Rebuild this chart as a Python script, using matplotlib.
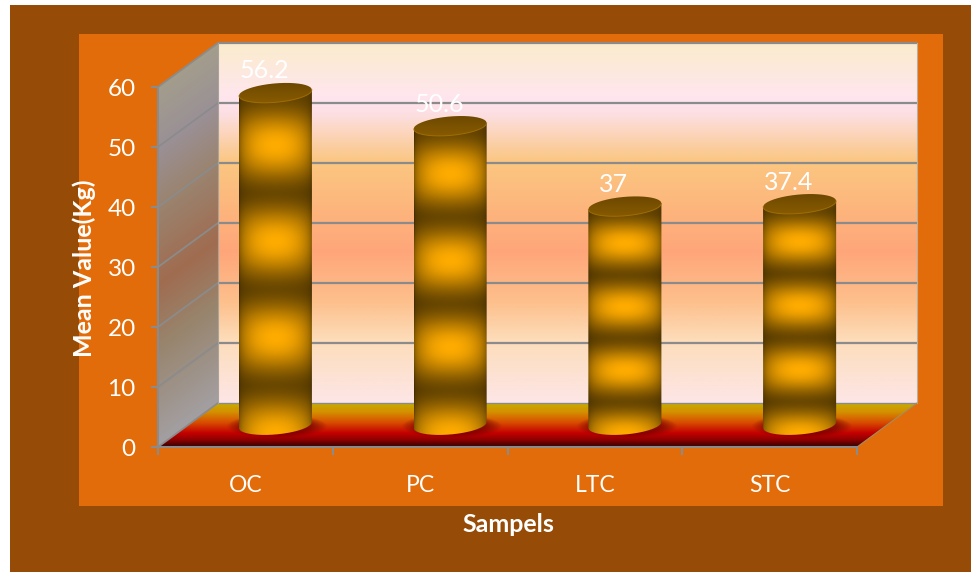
import matplotlib
matplotlib.use("Agg")
import matplotlib.pyplot as plt
import numpy as np
from matplotlib.colors import LinearSegmentedColormap, to_rgb
from matplotlib.patches import Rectangle
from matplotlib.path import Path

plt.rcParams['font.family'] = ['Lato', 'DejaVu Sans']

samples = ["OC", "PC", "LTC", "STC"]
mean_values = [56.2, 50.6, 37, 37.4]
value_ticks = [0, 10, 20, 30, 40, 50, 60]

W, H = 971, 572
GRID = "#8b8b8b"

# depth of the fake 3D box, in axis units
depth_x = 60 / 174.75
depth_y = 44 / 6.0
bar_half = 36.5 / 174.75
bar_squash = 1.58
bar_tilt = 0.5
bar_scale = 0.985


def px_box(x0, y0, x1, y1):
    return (x0 / W, 1 - y1 / H, (x1 - x0) / W, (y1 - y0) / H)


def gradient(stops):
    return LinearSegmentedColormap.from_list("g", stops)


def clipped_image(ax, rgb, extent, verts, zorder):
    im = ax.imshow(rgb, extent=extent, origin="lower", aspect="auto", zorder=zorder,
                   interpolation="bilinear")
    im.set_clip_box(ax.figure.bbox)
    im.set_clip_path(Path(verts), ax.transData)
    return im


fig = plt.figure(figsize=(W / 100, H / 100), dpi=100, facecolor="white")
x, y, w, h = px_box(10, 5, 971, 572)
fig.add_artist(Rectangle((x, y), w, h, transform=fig.transFigure, color="#964B06", lw=0, zorder=-2))
x, y, w, h = px_box(79, 34, 943, 506)
fig.add_artist(Rectangle((x, y), w, h, transform=fig.transFigure, color="#E36C0A", lw=0, zorder=-1))

ax = fig.add_axes(px_box(158, 87, 857, 447))
ax.patch.set_alpha(0)

x_lo, x_hi = -0.5, len(samples) - 0.5
y_lo, y_hi = 0, 60

# back wall
wall = gradient([(0.0, "#FBECCD"), (0.145, "#FFE6EE"), (0.19, "#FDE0E6"), (0.33, "#FBC680"),
                 (0.58, "#FFA67A"), (0.72, "#FDC08C"), (0.83, "#FDDDBB"), (1.0, "#FDE6E6")])
rows = np.linspace(1, 0, 400)[:, None]
back = ax.imshow(wall(rows)[:, :, :3], extent=(x_lo + depth_x, x_hi + depth_x, y_lo + depth_y, y_hi + depth_y),
                 origin="lower", aspect="auto", zorder=1, clip_on=False)

# side wall, shaded along the skew of the box
side = gradient([(0.0, "#A39D8C"), (0.17, "#9A9096"), (0.33, "#9A8470"), (0.55, "#A06C50"),
                 (0.72, "#98846C"), (1.0, "#A39FA2")])
gx, gy = np.meshgrid(np.linspace(x_lo, x_lo + depth_x, 80), np.linspace(y_lo, y_hi + depth_y, 420))
frac = gy - (gx - x_lo) / depth_x * depth_y
side_rgb = side(np.clip(1 - frac / 60, 0, 1))[:, :, :3]
side_verts = [(x_lo, y_lo), (x_lo + depth_x, y_lo + depth_y), (x_lo + depth_x, y_hi + depth_y), (x_lo, y_hi)]
clipped_image(ax, side_rgb, (x_lo, x_lo + depth_x, y_lo, y_hi + depth_y), side_verts, 1)

# floor
floor = gradient([(0.0, "#C8AC00"), (0.2, "#D49000"), (0.45, "#D84A00"), (0.68, "#C40000"),
                  (0.85, "#8A0000"), (1.0, "#300000")])
floor_rgb = floor(np.linspace(1, 0, 200)[:, None])[:, :, :3]
floor_verts = [(x_lo, y_lo), (x_hi, y_lo), (x_hi + depth_x, y_lo + depth_y), (x_lo + depth_x, y_lo + depth_y)]
clipped_image(ax, floor_rgb, (x_lo, x_hi + depth_x, y_lo, y_lo + depth_y), floor_verts, 1)

# gridlines on both walls
for v in value_ticks:
    lw = 1.6 if v > 0 else 1.0
    ax.plot([x_lo + depth_x, x_hi + depth_x], [v + depth_y, v + depth_y], color=GRID, lw=lw, zorder=2,
            clip_on=False, solid_capstyle="butt")
    ax.plot([x_lo, x_lo + depth_x], [v, v + depth_y], color=GRID, lw=1.3, zorder=2, clip_on=False)
ax.plot([x_lo + depth_x, x_lo + depth_x], [y_lo + depth_y, y_hi + depth_y], color="#A8A49C", lw=0.8, zorder=2,
        clip_on=False)
ax.plot([x_hi + depth_x, x_hi + depth_x], [y_lo + depth_y, y_hi + depth_y], color="#B8B0A0", lw=0.8, zorder=2,
        clip_on=False)
ax.plot([x_hi, x_hi + depth_x], [y_lo, y_lo + depth_y], color="#A09060", lw=0.8, zorder=2, clip_on=False)

bright = np.array(to_rgb("#FFAC00"))
cap_dark = np.array(to_rgb("#6A4600"))
cap_light = np.array(to_rgb("#8E5F00"))
bands = 3.45

for i, val in enumerate(mean_values):
    cx = i + depth_x / 2
    base = depth_y / 2
    top = base + val * bar_scale

    # soft shadow on the floor
    sx, sy = np.meshgrid(np.linspace(-1, 1, 80), np.linspace(-1, 1, 50))
    shade = np.zeros((50, 80, 4))
    shade[:, :, :3] = to_rgb("#6E0000")
    shade[:, :, 3] = 0.7 * np.clip((1 - sx ** 2 - sy ** 2) * 1.8, 0, 1)
    ax.imshow(shade, extent=(cx - 0.28, cx + 0.30, base - 2.1, base + 1.9), origin="lower", aspect="auto",
              zorder=3)

    # cylinder body
    t = np.linspace(-1, 1, 120)
    arc = np.sqrt(1 - t ** 2)
    lower = base + bar_tilt * t - bar_squash * arc
    upper = top + bar_tilt * t
    body = list(zip(cx + bar_half * t, lower)) + list(zip((cx + bar_half * t)[::-1], upper[::-1]))

    u, vv = np.meshgrid(np.linspace(-1, 1, 150), np.linspace(base - bar_squash - 0.5, top + 1, 500))
    phase = (vv - (base - bar_squash)) / (top - base) * bands
    along = (0.5 + 0.5 * np.cos(2 * np.pi * phase)) ** 0.9
    across = np.sqrt(np.clip(1 - u ** 2, 0, 1))
    shine = (0.42 + 0.58 * along) * (0.5 + 0.5 * across ** (0.45 + 0.8 * along))
    rgb = np.clip(shine[:, :, None] * bright, 0, 1)
    clipped_image(ax, rgb, (cx - bar_half, cx + bar_half, vv.min(), vv.max()), body, 4)

    # cylinder cap
    cap = list(zip(cx + bar_half * t, top + bar_tilt * t - bar_squash * arc)) + \
        list(zip((cx + bar_half * t)[::-1], (top + bar_tilt * t + bar_squash * arc)[::-1]))
    mix = np.linspace(0.9, 0.0, 40)[:, None, None]
    cap_rgb = np.repeat(mix * cap_light + (1 - mix) * cap_dark, 4, axis=1)
    clipped_image(ax, cap_rgb, (cx - bar_half, cx + bar_half, top - bar_squash - bar_tilt, top + bar_squash + bar_tilt),
                  cap, 5)
    ax.plot(cx + bar_half * t, top + bar_tilt * t - bar_squash * arc, color="#A87408", lw=0.7, alpha=0.8, zorder=6)

    ax.annotate(f"{val:g}", (cx, top), xytext=(-7.9, 15.8), textcoords="offset points", ha="center", va="center",
                color="white", fontsize=18, zorder=7, annotation_clip=False)

# axis frame and ticks
ax.set_xlim(x_lo, x_hi)
ax.set_ylim(y_lo, y_hi)
for name in ["top", "right"]:
    ax.spines[name].set_visible(False)
for name in ["left", "bottom"]:
    ax.spines[name].set_color(GRID)
    ax.spines[name].set_linewidth(1.5)
    ax.spines[name].set_zorder(8)
ax.set_yticks(value_ticks)
ax.set_xticks(range(len(samples)))
ax.set_xticklabels(samples)
ax.set_xticks(np.arange(x_lo, x_hi + 1), minor=True)
ax.tick_params(axis="y", length=5, width=1.5, color=GRID, labelcolor="white", labelsize=17.5, pad=11)
ax.tick_params(axis="x", which="major", length=0, labelcolor="white", labelsize=16.5, pad=20)
ax.tick_params(axis="x", which="minor", length=6, width=1.5, color=GRID)

fig.text(508 / W, 1 - 524 / H, "Sampels", color="white", fontsize=18, fontweight="bold", ha="center", va="center")
fig.text(84 / W, 1 - 268 / H, "Mean Value(Kg)", color="white", fontsize=18, fontweight="bold", rotation=90,
         ha="center", va="center")

fig.savefig("out.png", dpi=100, facecolor="white")
